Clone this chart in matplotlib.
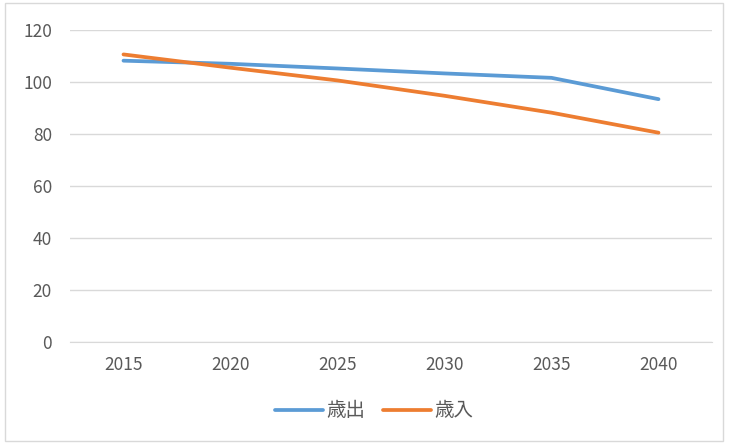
import matplotlib
matplotlib.use('Agg')
import matplotlib.pyplot as plt
from matplotlib.patches import Rectangle

plt.rcParams['font.family'] = ['Noto Sans CJK JP', 'DejaVu Sans']

# data
years = ['2015', '2020', '2025', '2030', '2035', '2040']
expenditure = [108.2, 107.0, 105.2, 103.3, 101.6, 93.4]   # 歳出
revenue = [110.6, 105.5, 100.6, 94.7, 88.2, 80.5]         # 歳入

blue = '#5B9BD5'
orange = '#ED7D31'
text_col = '#595959'

fig = plt.figure(figsize=(7.29, 4.43), dpi=100)
ax = fig.add_axes([70/729, 1-342/443, 642/729, 312/443])

x = list(range(len(years)))
ax.plot(x, expenditure, color=blue, lw=2.7, label='歳出', solid_capstyle='round')
ax.plot(x, revenue, color=orange, lw=2.7, label='歳入', solid_capstyle='round')

ax.set_xlim(-0.5, len(years) - 0.5)
ax.set_ylim(0, 120)
ax.set_yticks(range(0, 121, 20))
ax.set_xticks(x)
ax.set_xticklabels(years)
ax.grid(axis='y', color='#D9D9D9', lw=1)
ax.set_axisbelow(True)
for s in ['top', 'right', 'left']:
    ax.spines[s].set_visible(False)
ax.spines['bottom'].set_color('#D9D9D9')
ax.tick_params(length=0, labelsize=12.5, colors=text_col)
ax.tick_params(axis='x', pad=10)
ax.tick_params(axis='y', pad=13)

leg = fig.legend(loc='center', bbox_to_anchor=(374/729, 1-411/443), ncol=2, frameon=False,
                 fontsize=14, handlelength=2.5, columnspacing=0.9, handletextpad=0.15)
for t in leg.get_texts():
    t.set_color(text_col)

# chart border
fig.patches.append(Rectangle((5/729, 2/443), 718/729, 438/443, transform=fig.transFigure,
                             fill=False, edgecolor='#D9D9D9', lw=1))

fig.savefig('out.png', dpi=100)
